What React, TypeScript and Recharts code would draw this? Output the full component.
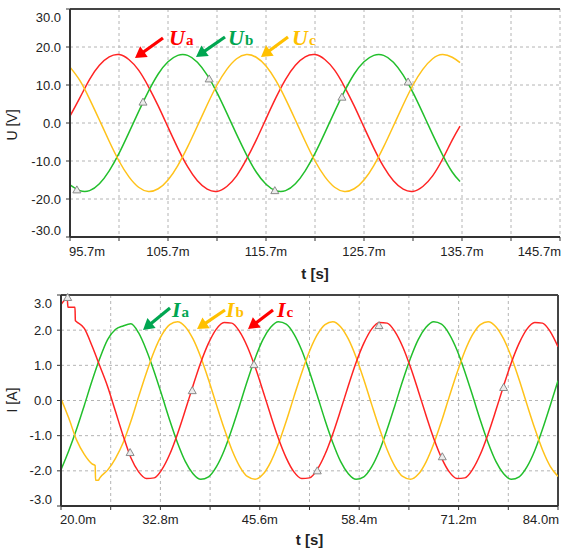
import React from 'react';
import { ComposedChart, Line, XAxis, YAxis, CartesianGrid, ReferenceLine, Scatter } from 'recharts';

// ---------- Top chart: phase voltages ----------
const tU = [95.7, 96.7, 97.7, 98.7, 99.7, 100.7, 101.7, 102.7, 103.7, 104.7, 105.7, 106.7, 107.7, 108.7, 109.7, 110.7, 111.7, 112.7, 113.7, 114.7, 115.7, 116.7, 117.7, 118.7, 119.7, 120.7, 121.7, 122.7, 123.7, 124.7, 125.7, 126.7, 127.7, 128.7, 129.7, 130.7, 131.7, 132.7, 133.7, 134.7, 135.5];
const ua = [1.8, 6.6, 11.5, 15.2, 17.4, 18.0, 16.7, 13.9, 9.6, 4.5, -1.1, -6.6, -11.5, -15.2, -17.4, -18.0, -16.7, -13.9, -9.6, -4.5, 1.1, 6.6, 11.5, 15.2, 17.4, 18.0, 16.7, 13.9, 9.6, 4.5, -1.1, -6.6, -11.5, -15.2, -17.4, -18.0, -16.7, -13.9, -9.6, -4.5, -0.8];
const ub = [-16.3, -17.8, -17.8, -16.0, -12.6, -8.0, -2.6, 3.0, 8.3, 12.9, 16.1, 17.8, 17.8, 16.0, 12.6, 8.0, 2.6, -3.0, -8.3, -12.9, -16.1, -17.8, -17.8, -16.0, -12.6, -8.0, -2.6, 3.0, 8.3, 12.9, 16.1, 17.8, 17.8, 16.0, 12.6, 8.0, 2.6, -3.0, -8.3, -12.9, -15.4];
const uc = [14.7, 11.2, 6.3, 0.8, -4.8, -10.0, -14.1, -16.9, -18.0, -17.3, -15.0, -11.2, -6.3, -0.8, 4.8, 10.0, 14.1, 16.9, 18.0, 17.3, 15.0, 11.2, 6.3, 0.8, -4.8, -10.0, -14.1, -16.9, -18.0, -17.3, -15.0, -11.2, -6.3, -0.8, 4.8, 10.0, 14.1, 16.9, 18.0, 17.3, 15.9];
const markUT = [96.4, 103.15, 109.9, 116.6, 123.45, 130.2];
const markUV = [-17.6, 5.5, 11.6, -17.8, 6.8, 10.8];
const xTicksU = [95.7, 100.7, 105.7, 110.7, 115.7, 120.7, 125.7, 130.7, 135.7, 140.7, 145.7];
const yTicksU = [-30, -20, -10, 0, 10, 20, 30];

// ---------- Bottom chart: phase currents ----------
const tI = [20, 21, 22, 23, 24, 25, 26, 27, 28, 29, 30, 31, 32, 33, 34, 35, 36, 37, 38, 39, 40, 41, 42, 43, 44, 45, 46, 47, 48, 49, 50, 51, 52, 53, 54, 55, 56, 57, 58, 59, 60, 61, 62, 63, 64, 65, 66, 67, 68, 69, 70, 71, 72, 73, 74, 75, 76, 77, 78, 79, 80, 81, 82, 83, 84];
const ia = [-1.97, -1.43, -0.82, -0.14, 0.56, 1.20, 1.73, 2.02, 2.12, 2.18, 1.92, 1.43, 0.82, 0.14, -0.56, -1.20, -1.73, -2.08, -2.24, -2.17,
  -1.89, -1.43, -0.82, -0.14, 0.56, 1.20, 1.73, 2.08, 2.24, 2.17, 1.89, 1.43, 0.82, 0.14, -0.56, -1.20, -1.73, -2.08, -2.24, -2.17,
  -1.89, -1.43, -0.82, -0.14, 0.56, 1.20, 1.73, 2.08, 2.24, 2.17, 1.89, 1.43, 0.82, 0.14, -0.56, -1.20, -1.73, -2.08, -2.24, -2.17,
  -1.89, -1.43, -0.82, -0.14, 0.56];
const ib = [0.05, -0.50, -1.12, -1.53, -1.80, -2.20, -1.98, -1.65, -1.20, -0.59, 0.11, 0.79, 1.40, 1.87, 2.16, 2.24, 2.10, 1.75, 1.23, 0.59,
  -0.11, -0.79, -1.40, -1.87, -2.16, -2.24, -2.10, -1.75, -1.23, -0.59, 0.11, 0.79, 1.40, 1.87, 2.16, 2.24, 2.10, 1.75, 1.23, 0.59,
  -0.11, -0.79, -1.40, -1.87, -2.16, -2.24, -2.10, -1.75, -1.23, -0.59, 0.11, 0.79, 1.40, 1.87, 2.16, 2.24, 2.10, 1.75, 1.23, 0.59,
  -0.11, -0.79, -1.40, -1.87, -2.16];
const ic = [2.73, 2.65, 2.24, 2.05, 1.55, 0.98, 0.40, -0.30, -1.00, -1.63, -2.03, -2.22, -2.20, -1.96, -1.53, -0.95, -0.28, 0.42, 1.08, 1.63,
  2.03, 2.22, 2.20, 1.96, 1.53, 0.95, 0.28, -0.42, -1.08, -1.63, -2.03, -2.22, -2.20, -1.96, -1.53, -0.95, -0.28, 0.42, 1.08, 1.63,
  2.03, 2.22, 2.20, 1.96, 1.53, 0.95, 0.28, -0.42, -1.08, -1.63, -2.03, -2.22, -2.20, -1.96, -1.53, -0.95, -0.28, 0.42, 1.08, 1.63,
  2.03, 2.22, 2.20, 1.96, 1.53];
// start-up transients (extra samples)
const icExtraT = [20.8, 20.9, 21.8, 21.85];
const icExtraV = [2.89, 2.65, 2.65, 2.27];
const ibExtraT = [24.4, 24.45, 24.8];
const ibExtraV = [-1.85, -2.27, -2.27];
const markIT = [20.86, 28.9, 36.9, 44.85, 53.0, 60.95, 69.1, 77.0];
const markIV = [2.93, -1.48, 0.28, 1.02, -2.0, 2.13, -1.6, 0.37];
const xTicksI = [20.0, 26.4, 32.8, 39.2, 45.6, 52.0, 58.4, 64.8, 71.2, 77.6, 84.0];
const yTicksI = [-3, -2, -1, 0, 1, 2, 3];

const RED = '#ff2424';
const GREEN = '#22bf2c';
const YELLOW = '#ffc21a';
const FONT = '"Liberation Sans", Arial, sans-serif';
const SERIF = '"Liberation Serif", "Times New Roman", serif';

function build(ts: number[], vs: number[], et: number[] = [], ev: number[] = []) {
  const rows = ts.map((t, i) => ({ t, v: vs[i] }));
  et.forEach((t, i) => rows.push({ t, v: ev[i] }));
  rows.sort((a, b) => a.t - b.t);
  return rows;
}

const dUa = build(tU, ua);
const dUb = build(tU, ub);
const dUc = build(tU, uc);
const dMU = build(markUT, markUV);
const dIa = build(tI, ia);
const dIb = build(tI, ib, ibExtraT, ibExtraV);
const dIc = build(tI, ic, icExtraT, icExtraV);
const dMI = build(markIT, markIV);

const makeXTick = (ticks: number[]) => (props: any) => {
  const { x, y, payload } = props;
  const idx = ticks.indexOf(payload.value);
  if (idx % 2 !== 0) return <g />;
  const anchor = idx === 0 ? 'start' : idx === ticks.length - 1 ? 'end' : 'middle';
  const dx = idx === 0 ? -1 : idx === ticks.length - 1 ? 1 : 0;
  return (
    <text x={x + dx} y={y} dy="0.71em" textAnchor={anchor} fontFamily={FONT} fontSize={13} fill="#222">
      {payload.value.toFixed(1) + 'm'}
    </text>
  );
};

const makeYTick = (ticks: number[], scale: number) => (props: any) => {
  const { x, y, payload } = props;
  const v = payload.value;
  let off = 4.6;
  if (v === ticks[ticks.length - 1]) off += 8;
  if (v === ticks[0]) off -= 7;
  return (
    <text x={x} y={y + off} textAnchor="end" fontFamily={FONT} fontSize={13} fill="#222">
      {(v / scale).toFixed(1)}
    </text>
  );
};

const Tri = (p: any) => {
  const { cx, cy } = p;
  if (cx == null || cy == null) return <g />;
  return (
    <polygon
      points={`${cx},${cy - 4} ${cx - 4},${cy + 3} ${cx + 4},${cy + 3}`}
      fill="#ececec"
      stroke="#8a8a8a"
      strokeWidth={1}
    />
  );
};

function Arrow({ x1, y1, x2, y2, color }: { x1: number; y1: number; x2: number; y2: number; color: string }) {
  const dx = x2 - x1;
  const dy = y2 - y1;
  const len = Math.sqrt(dx * dx + dy * dy);
  const ux = dx / len;
  const uy = dy / len;
  const hl = 11;
  const hw = 6.5;
  const bx = x2 - ux * hl;
  const by = y2 - uy * hl;
  const nx = -uy;
  const ny = ux;
  return (
    <g>
      <line x1={x1} y1={y1} x2={bx + ux * 1} y2={by + uy * 1} stroke={color} strokeWidth={3.2} />
      <polygon points={`${x2},${y2} ${bx + nx * hw},${by + ny * hw} ${bx - nx * hw},${by - ny * hw}`} fill={color} />
    </g>
  );
}

function Label({ x, y, main, sub, color }: { x: number; y: number; main: string; sub: string; color: string }) {
  return (
    <text x={x} y={y} fill={color} fontFamily={SERIF} fontWeight="bold">
      <tspan fontStyle="italic" fontSize={22}>{main}</tspan>
      <tspan fontSize={15} dx={1}>{sub}</tspan>
    </text>
  );
}

const axisStroke = '#333';

export default function App() {
  return (
    <div style={{ position: 'absolute', left: 0, top: 0, width: 561, height: 549, background: '#fff', overflow: 'hidden' }}>
      <div style={{ position: 'absolute', left: 0, top: 0 }}>
        <ComposedChart width={561} height={280} margin={{ top: 9, right: 1, bottom: 0, left: 0 }}>
          <CartesianGrid stroke="#b4b4b4" strokeDasharray="3 3" />
          <XAxis
            type="number"
            dataKey="t"
            domain={[95.7, 145.7]}
            ticks={xTicksU}
            interval={0}
            allowDataOverflow
            height={43}
            tickSize={4}
            tickMargin={6}
            axisLine={{ stroke: axisStroke, strokeWidth: 2 }}
            tickLine={{ stroke: axisStroke }}
            tick={makeXTick(xTicksU)}
          />
          <YAxis
            type="number"
            domain={[-30, 30]}
            ticks={yTicksU}
            interval={0}
            width={70}
            tickSize={4}
            tickMargin={5}
            axisLine={{ stroke: axisStroke, strokeWidth: 2 }}
            tickLine={{ stroke: axisStroke }}
            tick={makeYTick(yTicksU, 1)}
          />
          <ReferenceLine y={30} stroke="#444" strokeWidth={2} />
          <Line data={dUa} dataKey="v" type="natural" stroke={RED} strokeWidth={1.5} dot={false} isAnimationActive={false} />
          <Line data={dUb} dataKey="v" type="natural" stroke={GREEN} strokeWidth={1.5} dot={false} isAnimationActive={false} />
          <Line data={dUc} dataKey="v" type="natural" stroke={YELLOW} strokeWidth={1.5} dot={false} isAnimationActive={false} />
          <Scatter data={dMU} dataKey="v" shape={Tri} isAnimationActive={false} />
        </ComposedChart>
      </div>
      <div style={{ position: 'absolute', left: 0, top: 280 }}>
        <ComposedChart width={561} height={269} margin={{ top: 15, right: 3, bottom: 0, left: 0 }}>
          <CartesianGrid stroke="#b4b4b4" strokeDasharray="3 3" />
          <XAxis
            type="number"
            dataKey="t"
            domain={[20, 84]}
            ticks={xTicksI}
            interval={0}
            allowDataOverflow
            height={43}
            tickSize={4}
            tickMargin={5}
            axisLine={{ stroke: axisStroke, strokeWidth: 2 }}
            tickLine={{ stroke: axisStroke }}
            tick={makeXTick(xTicksI)}
          />
          <YAxis
            type="number"
            domain={[-3, 3]}
            ticks={yTicksI}
            interval={0}
            width={61}
            tickSize={4}
            tickMargin={5}
            axisLine={{ stroke: axisStroke, strokeWidth: 2 }}
            tickLine={{ stroke: axisStroke }}
            tick={makeYTick(yTicksI, 1)}
          />
          <ReferenceLine y={3} stroke="#444" strokeWidth={2} />
          <ReferenceLine x={84} stroke="#444" strokeWidth={2} />
          <Line data={dIa} dataKey="v" type="monotone" stroke={GREEN} strokeWidth={1.5} dot={false} isAnimationActive={false} />
          <Line data={dIb} dataKey="v" type="monotone" stroke={YELLOW} strokeWidth={1.5} dot={false} isAnimationActive={false} />
          <Line data={dIc} dataKey="v" type="monotone" stroke={RED} strokeWidth={1.5} dot={false} isAnimationActive={false} />
          <Scatter data={dMI} dataKey="v" shape={Tri} isAnimationActive={false} />
        </ComposedChart>
      </div>
      <svg width={561} height={549} style={{ position: 'absolute', left: 0, top: 0, pointerEvents: 'none' }}>
        {/* axis titles */}
        <text x={0} y={0} transform="translate(17,125) rotate(-90)" textAnchor="middle" fontFamily={FONT} fontSize={14} fill="#222">U [V]</text>
        <text x={0} y={0} transform="translate(17,400) rotate(-90)" textAnchor="middle" fontFamily={FONT} fontSize={14} fill="#222">I [A]</text>
        <text x={315} y={279} textAnchor="middle" fontFamily={FONT} fontSize={15} fontWeight="bold" fill="#222">t [s]</text>
        <text x={309.5} y={545} textAnchor="middle" fontFamily={FONT} fontSize={15} fontWeight="bold" fill="#222">t [s]</text>
        {/* voltage annotations */}
        <Arrow x1={163} y1={38} x2={135} y2={58} color="#ff0000" />
        <Label x={169} y={45} main="U" sub="a" color="#ff0000" />
        <Arrow x1={225} y1={37} x2={196} y2={57} color="#00a651" />
        <Label x={228} y={45} main="U" sub="b" color="#00a651" />
        <Arrow x1={288} y1={37} x2={261} y2={57} color="#ffc000" />
        <Label x={292} y={45} main="U" sub="c" color="#ffc000" />
        {/* current annotations */}
        <Arrow x1={170} y1={308} x2={143} y2={330} color="#00a651" />
        <Label x={172} y={317} main="I" sub="a" color="#00a651" />
        <Arrow x1={225} y1={310} x2={197} y2={329} color="#ffc000" />
        <Label x={226} y={317} main="I" sub="b" color="#ffc000" />
        <Arrow x1={273} y1={310} x2={248} y2={329} color="#ff0000" />
        <Label x={277} y={317} main="I" sub="c" color="#ff0000" />
      </svg>
    </div>
  );
}
